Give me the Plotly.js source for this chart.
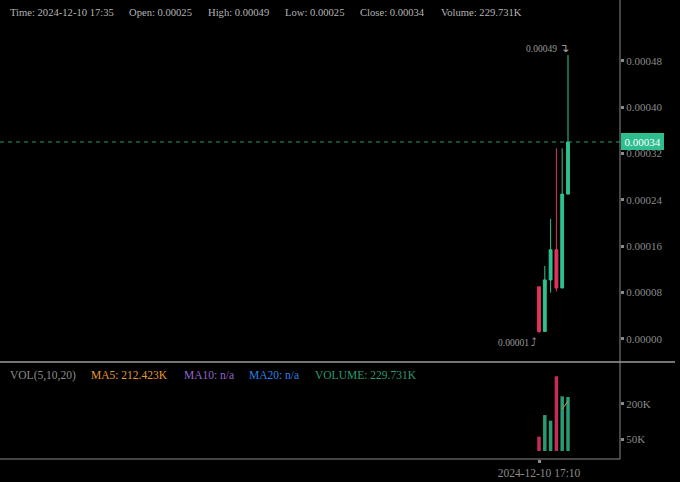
<!DOCTYPE html>
<html>
<head>
<meta charset="utf-8">
<script src="https://cdn.plot.ly/plotly-3.0.1.min.js"></script>
<style>
html,body{margin:0;padding:0;background:#000;}
#chart{width:680px;height:482px;}
</style>
</head>
<body>
<div id="chart"></div>
<script>
// ---- data ----
var times  = ['2024-12-10 17:10','2024-12-10 17:15','2024-12-10 17:20','2024-12-10 17:25','2024-12-10 17:30','2024-12-10 17:35'];
var opens  = [0.000090, 0.000013, 0.000102, 0.000154, 0.000088, 0.00025];
var highs  = [0.000091, 0.000126, 0.000207, 0.000329, 0.000329, 0.00049];
var lows   = [0.000010, 0.000012, 0.000080, 0.000082, 0.000088, 0.00025];
var closes = [0.000013, 0.000102, 0.000154, 0.000088, 0.000250, 0.00034];
var volumes = [61000, 153000, 129000, 318000, 232400, 229731];
var ma5     = [null, null, null, null, 178680, 212423];
var priceTickVals = [0, 0.00008, 0.00016, 0.00024, 0.00032, 0.00040, 0.00048];
var volTickVals = [50000, 200000];
var volTickText = ['50K', '200K'];
var headerItems = ['Time: 2024-12-10 17:35', 'Open: 0.00025', 'High: 0.00049', 'Low: 0.00025', 'Close: 0.00034', 'Volume: 229.731K'];
var volItems = ['VOL(5,10,20)', 'MA5: 212.423K', 'MA10: n/a', 'MA20: n/a', 'VOLUME: 229.731K'];
var lastPrice = 0.00034;
var highLabel = '0.00049';
var lowLabel = '0.00001';

// ---- styling ----
var UP = '#2ec291', DOWN = '#e3325a';
var VUP = '#279c74', VDOWN = '#c82c55';
var AX = '#8a8a8a';
var FONT = 'Liberation Serif, Times New Roman, serif';
var PW = 620, PH = 459;

var volColors = closes.map(function(c,i){ return c >= opens[i] ? VUP : VDOWN; });

var candle = {
  type:'candlestick', x: times, open: opens, high: highs, low: lows, close: closes,
  xaxis:'x', yaxis:'y',
  increasing:{line:{color:UP,width:1}, fillcolor:UP},
  decreasing:{line:{color:DOWN,width:1}, fillcolor:DOWN},
  whiskerwidth:0, hoverinfo:'skip', showlegend:false
};
var vol = {
  type:'bar', x: times, y: volumes, xaxis:'x', yaxis:'y2',
  marker:{color: volColors, line:{width:0}}, hoverinfo:'skip', showlegend:false
};
var maLine = {
  type:'scatter', mode:'lines', x: times, y: ma5, xaxis:'x', yaxis:'y2',
  line:{color:'#e0922a', width:1}, hoverinfo:'skip', showlegend:false
};

var headerX = [8, 127, 206, 283, 358, 439];
var volX = [8, 89, 182, 247, 313];
var volCol = ['#8c8c8c', '#e39a2f', '#9467c9', '#2f7fe0', '#2a9a70'];

var annotations = [];
headerItems.forEach(function(t,i){
  annotations.push({xref:'paper', yref:'paper', x: headerX[i]/PW, y: 1-12/PH, xanchor:'left', yanchor:'middle',
    text:t, showarrow:false, font:{family:FONT, size:10.6, color:'#b4b4b4'}});
});
volItems.forEach(function(t,i){
  annotations.push({xref:'paper', yref:'paper', x: volX[i]/PW, y: 1-375/PH, xanchor:'left', yanchor:'middle',
    text:t, showarrow:false, font:{family:FONT, size:11.5, color:volCol[i]}});
});
annotations.push({xref:'x', yref:'y', x: times[5], y: highs[5], xanchor:'right', yanchor:'bottom', xshift:3, yshift:-2,
  text: highLabel + ' <span style="font-family:DejaVu Sans;font-size:12px">↴</span>', showarrow:false, font:{family:FONT, size:9.5, color:'#9a9a9a'}});
annotations.push({xref:'x', yref:'y', x: times[0], y: Math.min.apply(null, lows), xanchor:'right', yanchor:'top', xshift:0, yshift:-1,
  text: lowLabel + ' <span style="font-family:DejaVu Sans;font-size:11px">⤴</span>', showarrow:false, font:{family:FONT, size:9.5, color:'#9a9a9a'}});
annotations.push({xref:'paper', yref:'y', x: 1, y: lastPrice, xanchor:'left', yanchor:'middle', xshift:1,
  text: lastPrice.toFixed(5), showarrow:false, bgcolor:'#2ebd8f', borderwidth:0, borderpad:2, width:39, height:13,
  font:{family:FONT, size:11, color:'#ffffff'}});

var layout = {
  width:680, height:482,
  paper_bgcolor:'#000', plot_bgcolor:'#000',
  margin:{l:0, r:60, t:0, b:23},
  showlegend:false, bargap:0.4, dragmode:false,
  xaxis:{type:'date', anchor:'y2', range:['2024-12-10 09:25:20','2024-12-10 18:19:50'],
    rangeslider:{visible:false}, showgrid:false, zeroline:false, showline:false,
    tickvals:[times[0]], ticktext:['2024-12-10 17:10'], ticks:'outside', ticklen:3, tickwidth:3, tickcolor:AX,
    tickfont:{family:FONT, size:11.5, color:AX}, automargin:false},
  yaxis:{domain:[1-361/PH, 1], side:'right', range:[-0.000038, 0.000585], showgrid:false, zeroline:false, showline:false,
    tickvals:priceTickVals, tickformat:'.5f', ticks:'outside', ticklen:3, tickwidth:3, tickcolor:AX,
    tickfont:{family:FONT, size:11, color:AX}, automargin:false},
  yaxis2:{domain:[0, 1-362/PH], side:'right', range:[-34000, 378600], showgrid:false, zeroline:false, showline:false,
    tickvals:volTickVals, ticktext:volTickText, ticks:'outside', ticklen:3, tickwidth:3, tickcolor:AX,
    tickfont:{family:FONT, size:11, color:AX}, automargin:false},
  shapes:[
    {type:'line', xref:'paper', yref:'y', x0:0, x1:1, y0:lastPrice, y1:lastPrice, line:{color:'#2a9d74', width:1, dash:'4px,4px'}},
    {type:'line', xref:'paper', yref:'paper', x0:1, x1:1, y0:0, y1:1, line:{color:'#8a8a8a', width:1}},
    {type:'line', xref:'paper', yref:'paper', x0:0, x1:675/PW, y0:1-362/PH, y1:1-362/PH, line:{color:'#9a9a9a', width:1.5}},
    {type:'line', xref:'paper', yref:'paper', x0:0, x1:1, y0:0, y1:0, line:{color:'#8a8a8a', width:1}}
  ],
  annotations: annotations
};

Plotly.newPlot('chart', [candle, vol, maLine], layout, {staticPlot:true, displayModeBar:false});
</script>
</body>
</html>
